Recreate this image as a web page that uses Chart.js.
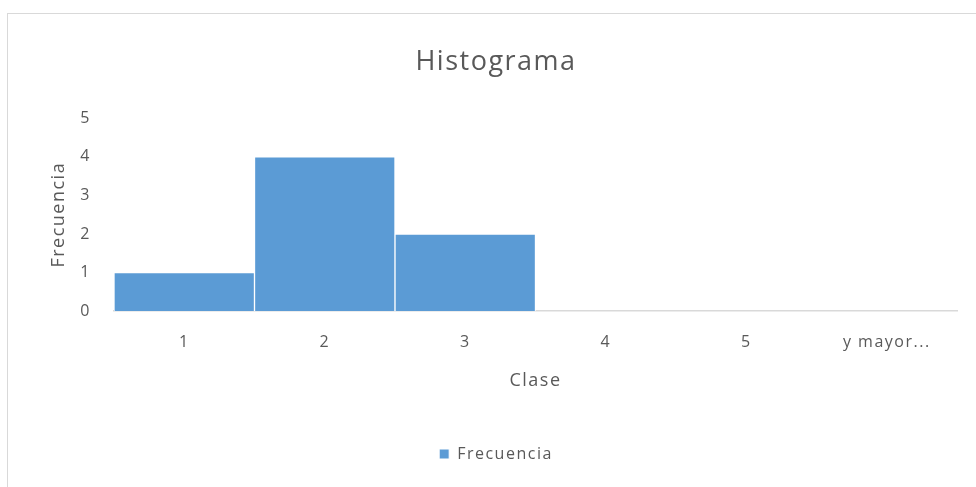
<!DOCTYPE html>
<html>
<head>
<meta charset="utf-8">
<script src="https://cdn.jsdelivr.net/npm/chart.js@4"></script>
<style>
  html, body { margin: 0; padding: 0; background: #ffffff; overflow: hidden; }
  #frame {
    position: absolute; left: 7px; top: 13px;
    width: 980px; height: 480px;
    border: 1px solid #d9d9d9; box-sizing: border-box;
  }
  #wrap { position: absolute; left: 1px; top: 1px; width: 978px; height: 473px; }
</style>
</head>
<body>
<div id="frame"><div id="wrap"><canvas id="c"></canvas></div></div>
<script>
// Histogram classes and their frequencies
const categories = ['1', '2', '3', '4', '5', 'y mayor...'];
const frecuencia = [1, 4, 2, 0, 0, 0];
const yTicks = [0, 1, 2, 3, 4, 5];

const FONT = '"Open Sans", "Liberation Sans", sans-serif';
const GREY = '#595959';

// Slightly open letter spacing for all chart text
const spacing = {
  id: 'spacing',
  beforeUpdate(chart) { chart.ctx.letterSpacing = '1.5px'; },
  beforeDraw(chart) { chart.ctx.letterSpacing = '1.5px'; }
};

new Chart(document.getElementById('c'), {
  type: 'bar',
  plugins: [spacing],
  data: {
    labels: categories,
    datasets: [{
      label: 'Frecuencia',
      data: frecuencia,
      backgroundColor: '#5b9bd5',
      borderColor: '#ffffff',
      borderWidth: 1,
      barPercentage: 1,
      categoryPercentage: 1
    }]
  },
  options: {
    responsive: true,
    maintainAspectRatio: false,
    animation: false,
    layout: { padding: { left: 26, right: 30, top: 0, bottom: 16 } },
    plugins: {
      title: {
        display: true,
        text: 'Histograma',
        color: GREY,
        font: { family: FONT, size: 27, weight: 'normal' },
        padding: { top: 31, bottom: 40 }
      },
      legend: {
        display: true,
        position: 'bottom',
        labels: {
          color: GREY,
          font: { family: FONT, size: 16 },
          boxWidth: 10,
          boxHeight: 10,
          padding: 3
        }
      },
      tooltip: { enabled: false }
    },
    scales: {
      x: {
        grid: { display: false, drawTicks: false },
        border: { display: true, color: '#d9d9d9', width: 1.5 },
        ticks: { color: GREY, font: { family: FONT, size: 16 }, padding: 22, maxRotation: 0 },
        title: {
          display: true,
          text: 'Clase',
          color: GREY,
          font: { family: FONT, size: 18 },
          padding: { top: 0, bottom: 51 }
        },
        afterFit(scale) { scale.height = 132; }
      },
      y: {
        min: 0,
        max: 5,
        afterBuildTicks(scale) { scale.ticks = yTicks.map(v => ({ value: v })); },
        grid: { display: false, drawTicks: false },
        border: { display: false },
        ticks: { color: GREY, font: { family: FONT, size: 16 }, padding: 23 },
        title: {
          display: true,
          text: 'Frecuencia',
          color: GREY,
          font: { family: FONT, size: 18 },
          padding: { top: 13, bottom: 0 }
        },
        afterFit(scale) { scale.width = 79; }
      }
    }
  }
});
</script>
</body>
</html>
